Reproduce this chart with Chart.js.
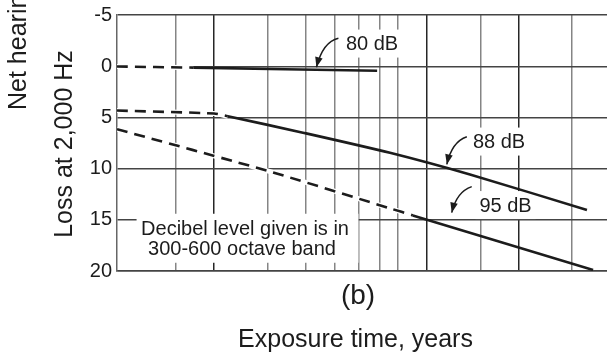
<!DOCTYPE html>
<html><head><meta charset="utf-8">
<script src="https://cdn.jsdelivr.net/npm/chart.js@4"></script>
<style>html,body{margin:0;padding:0;overflow:hidden;background:#fff}canvas{display:block}</style>
</head><body>
<canvas id="c" width="610" height="354"></canvas>
<script>
// ---- data (x: exposure time in years, log scale; y: net hearing loss, dB) ----
const xGridTicks = [1.5, 2, 3, 4, 5, 6, 7, 8, 10, 15, 20, 30];
const yTicks = [-5, 0, 5, 10, 15, 20];

const db80DashedX = [0.96, 1.71];
const db80DashedY = [0.03, 0.14];
const db80SolidX  = [1.71, 6.87];
const db80SolidY  = [0.14, 0.45];

const db88DashedX = [0.96, 2.0, 2.22];
const db88DashedY = [4.33, 4.62, 4.88];
const db88SolidX  = [2.22, 3.92, 7.57, 13.87, 33.6];
const db88SolidY  = [4.88, 6.49, 8.46, 10.58, 14.04];

const db95DashedX = [0.96, 3.0, 7.57, 9.0];
const db95DashedY = [6.15, 10.22, 13.88, 14.57];
const db95SolidX  = [9.0, 35.2];
const db95SolidY  = [14.57, 19.9];

const seriesLabels = ['80 dB', '88 dB', '95 dB'];
const labelX = [6.61, 17.28, 18.15];
const labelY = [-2.21, 7.36, 13.56];
const arrowTipX = [4.34, 11.64, 12.08];
const arrowTipY = [0.1, 9.59, 14.3];

const noteLines = ['Decibel level given is in', '300-600 octave band'];
const noteX = 2.5, noteY = 16.9;

// ---- styles ----
const FONT = '"Liberation Sans", Arial, Helvetica, sans-serif';
const INK = '#1c1c1c';
const arrowShape = [ {sx:22, sy:-29, cx:6.5, cy:-25.5}, {sx:20, sy:-27.7, cx:5, cy:-22.7}, {sx:20, sy:-26, cx:5, cy:-21} ];

const pts = (xs, ys) => xs.map((v, i) => ({x: v, y: ys[i]}));
const dash = [11, 7];

function solid(xs, ys){ return {data: pts(xs, ys), borderColor: INK, borderWidth: 2.6, pointRadius: 0, tension: 0.25, order: 0}; }
function dashed(xs, ys){ return {data: pts(xs, ys), borderColor: INK, borderWidth: 2.6, borderDash: dash, pointRadius: 0, tension: 0.2, order: 0}; }
function halo(xs, ys){ return {data: pts(xs, ys), borderColor: '#fff', borderWidth: 5, pointRadius: 0, tension: 0.2, order: 5}; }

const annot = {
  id: 'annot',
  beforeDatasetsDraw(chart){
    const {ctx, scales: {x, y}} = chart;
    ctx.save();
    ctx.fillStyle = '#fff';
    ctx.font = '20px ' + FONT;
    seriesLabels.forEach((t, i) => {
      const px = x.getPixelForValue(labelX[i]), py = y.getPixelForValue(labelY[i]);
      const w = ctx.measureText(t).width;
      ctx.fillRect(px - w/2 - 4, py - 14, w + 8, 28);
    });
    const nx = x.getPixelForValue(noteX), ny = y.getPixelForValue(noteY);
    const mw = Math.max(...noteLines.map(t => ctx.measureText(t).width));
    ctx.fillRect(nx - mw/2 - 3, ny - 25.5, mw + 14, 49);
    ctx.restore();
  },
  afterDatasetsDraw(chart){
    const {ctx, scales: {x, y}} = chart;
    ctx.save();
    ctx.fillStyle = INK; ctx.strokeStyle = INK;
    ctx.font = '20px ' + FONT;
    ctx.textAlign = 'center'; ctx.textBaseline = 'middle';
    seriesLabels.forEach((t, i) => {
      ctx.fillText(t, x.getPixelForValue(labelX[i]), y.getPixelForValue(labelY[i]) + 1);
      const tx = x.getPixelForValue(arrowTipX[i]), ty = y.getPixelForValue(arrowTipY[i]);
      const a = arrowShape[i];
      const cx = tx + a.cx, cy = ty + a.cy;
      ctx.lineWidth = 1.5;
      ctx.beginPath(); ctx.moveTo(tx + a.sx, ty + a.sy); ctx.quadraticCurveTo(cx, cy, tx, ty); ctx.stroke();
      const ang = Math.atan2(ty - cy, tx - cx), L = 10, H = 3.8;
      const bx = tx - L*Math.cos(ang), by = ty - L*Math.sin(ang);
      ctx.beginPath(); ctx.moveTo(tx, ty);
      ctx.lineTo(bx + H*Math.sin(ang), by - H*Math.cos(ang));
      ctx.lineTo(bx - H*Math.sin(ang), by + H*Math.cos(ang));
      ctx.closePath(); ctx.fill();
    });
    const nx = x.getPixelForValue(noteX), ny = y.getPixelForValue(noteY);
    ctx.fillText(noteLines[0], nx + 1.5, ny - 9.5);
    ctx.fillText(noteLines[1], nx - 1.5, ny + 10.5);
    ctx.restore();
  },
  afterDraw(chart){
    const {ctx} = chart;
    ctx.save();
    ctx.fillStyle = INK;
    ctx.textBaseline = 'alphabetic';
    ctx.font = '25px ' + FONT;
    ctx.textAlign = 'center';
    ctx.fillText('Exposure time, years', 355.5, 347);
    ctx.font = '28px ' + FONT;
    ctx.fillText('(b)', 358, 304);
    ctx.font = '25px ' + FONT;
    ctx.save(); ctx.translate(72, 144); ctx.rotate(-Math.PI/2);
    ctx.textAlign = 'center'; ctx.fillText('Loss at 2,000 Hz', 0, 0); ctx.restore();
    ctx.save(); ctx.translate(25.5, 110); ctx.rotate(-Math.PI/2);
    ctx.textAlign = 'left'; ctx.fillText('Net hearing', 0, 0); ctx.restore();
    ctx.restore();
  }
};

new Chart(document.getElementById('c'), {
  type: 'line',
  data: {
    datasets: [
      halo(db80DashedX, db80DashedY), halo(db88DashedX, db88DashedY), halo(db95DashedX, db95DashedY),
      dashed(db80DashedX, db80DashedY), solid(db80SolidX, db80SolidY),
      dashed(db88DashedX, db88DashedY), solid(db88SolidX, db88SolidY),
      dashed(db95DashedX, db95DashedY), solid(db95SolidX, db95SolidY)
    ]
  },
  options: {
    responsive: false, animation: false, devicePixelRatio: 1,
    layout: {padding: {left: 0, top: 11, right: 0, bottom: 83}},
    plugins: {legend: {display: false}, tooltip: {enabled: false}},
    scales: {
      x: {
        type: 'logarithmic', min: 0.96, max: 40,
        afterBuildTicks: s => { s.ticks = xGridTicks.map(v => ({value: v})); },
        ticks: {display: false},
        grid: {
          drawTicks: false,
          color: c => ([2, 10, 20].includes(c.tick && c.tick.value) ? '#262626' : '#858585'),
          lineWidth: 1.5
        },
        border: {color: '#444', width: 1.5},
        afterFit: s => { s.height = 0; }
      },
      y: {
        type: 'linear', reverse: true, min: -5, max: 20,
        afterBuildTicks: s => { s.ticks = yTicks.map(v => ({value: v})); },
        ticks: {color: INK, font: {family: FONT, size: 20, lineHeight: 1}, padding: 5},
        grid: {drawTicks: false, color: '#444', lineWidth: 1.4},
        border: {color: '#666', width: 1.5},
        afterFit: s => { s.width = 117; }
      }
    }
  },
  plugins: [annot]
});
</script>
</body></html>
